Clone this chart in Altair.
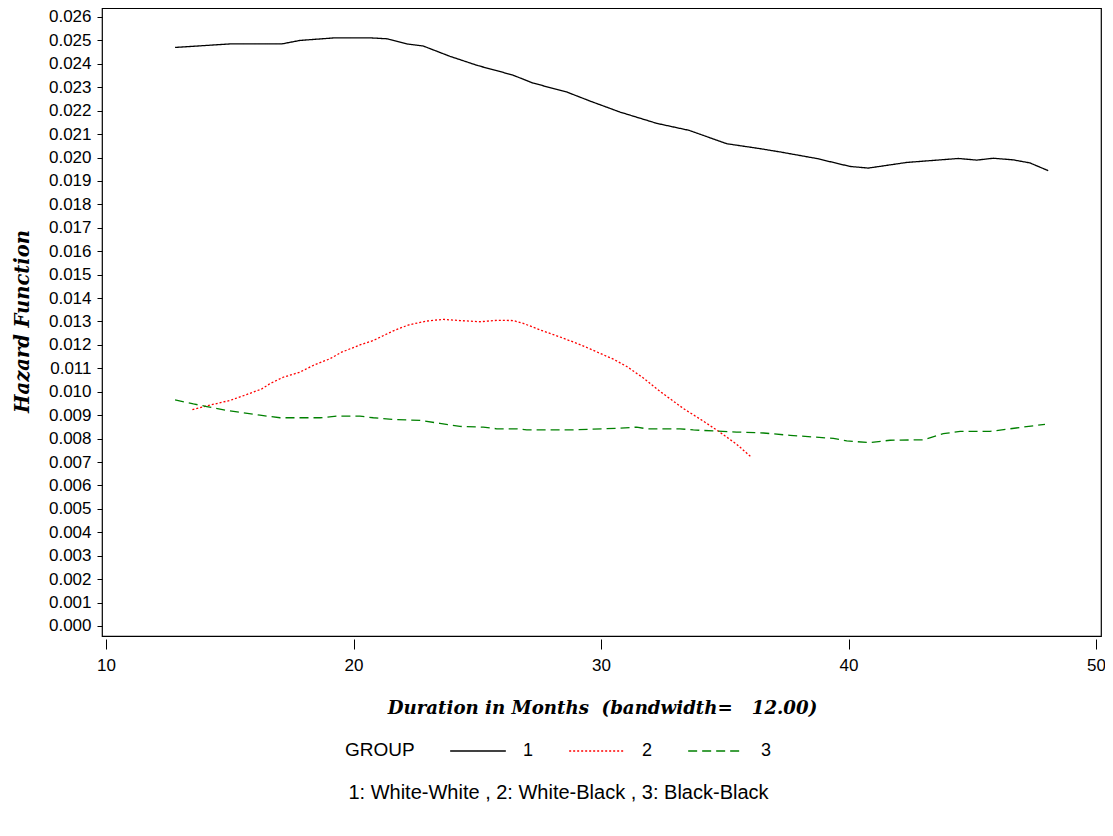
import altair as alt
import pandas as pd

# Group 1: White-White
months_1 = [12.79, 15.01, 17.10, 17.84, 19.25, 20.67, 21.34, 22.15, 22.82, 23.90,
            25.04, 25.79, 26.46, 27.25, 28.61, 29.56, 30.77, 32.25, 33.56, 35.08,
            36.42, 37.23, 38.71, 40.06, 40.80, 42.35, 44.44, 45.18, 45.85, 46.66,
            47.33, 48.07]
hazard_1 = [0.02470, 0.02485, 0.02485, 0.02500, 0.02511, 0.02511, 0.02507, 0.02485, 0.02476, 0.02432,
            0.02392, 0.02371, 0.02351, 0.02318, 0.02280, 0.02241, 0.02194, 0.02146, 0.02116, 0.02059,
            0.02038, 0.02024, 0.01996, 0.01962, 0.01955, 0.01979, 0.01996, 0.01989, 0.01997, 0.01990,
            0.01977, 0.01944]

# Group 2: White-Black
months_2 = [13.49, 14.20, 15.01, 15.68, 16.29, 16.63, 17.16, 17.84, 18.38, 19.05,
            19.52, 20.26, 20.80, 21.61, 22.21, 22.96, 23.63, 24.30, 25.11, 25.79,
            26.46, 26.86, 27.54, 28.21, 29.02, 29.56, 30.50, 31.04, 31.71, 32.38,
            33.32, 34.13, 34.74, 35.48, 36.06]
hazard_2 = [0.00924, 0.00943, 0.00963, 0.00988, 0.01012, 0.01035, 0.01062, 0.01084, 0.01113, 0.01141,
            0.01169, 0.01200, 0.01219, 0.01260, 0.01285, 0.01302, 0.01309, 0.01304, 0.01299, 0.01305,
            0.01304, 0.01292, 0.01264, 0.01239, 0.01207, 0.01183, 0.01139, 0.01108, 0.01059, 0.01002,
            0.00929, 0.00875, 0.00832, 0.00776, 0.00722]

# Group 3: Black-Black
months_3 = [12.79, 13.53, 14.07, 14.88, 16.22, 17.03, 18.65, 19.32, 20.26, 20.80,
            21.61, 22.69, 23.49, 24.30, 25.24, 25.79, 26.59, 27.00, 28.75, 30.63,
            31.44, 31.84, 33.19, 33.73, 34.67, 35.48, 36.56, 37.64, 38.58, 39.39,
            39.93, 40.87, 41.68, 43.02, 43.83, 44.51, 45.72, 46.53, 47.94]
hazard_3 = [0.00965, 0.00948, 0.00937, 0.00920, 0.00900, 0.00889, 0.00889, 0.00896, 0.00896, 0.00889,
            0.00882, 0.00878, 0.00865, 0.00852, 0.00849, 0.00842, 0.00842, 0.00837, 0.00837, 0.00844,
            0.00849, 0.00842, 0.00842, 0.00837, 0.00832, 0.00828, 0.00824, 0.00814, 0.00807, 0.00801,
            0.00790, 0.00783, 0.00793, 0.00795, 0.00821, 0.00831, 0.00831, 0.00842, 0.00861]

groups = ["1", "2", "3"]
x_ticks = [10, 20, 30, 40, 50]
y_ticks = [0.000, 0.001, 0.002, 0.003, 0.004, 0.005, 0.006, 0.007, 0.008, 0.009,
           0.010, 0.011, 0.012, 0.013, 0.014, 0.015, 0.016, 0.017, 0.018, 0.019,
           0.020, 0.021, 0.022, 0.023, 0.024, 0.025, 0.026]
footnote = "1: White-White , 2: White-Black , 3: Black-Black"

rows = []
for g, ms, hs in zip(groups, [months_1, months_2, months_3], [hazard_1, hazard_2, hazard_3]):
    for m, h in zip(ms, hs):
        rows.append({"month": m, "hazard": h, "group": g})
df = pd.DataFrame(rows)

legend = alt.Legend(
    orient="none", legendX=243, legendY=714, direction="horizontal",
    title="GROUP", titleOrient="left", titleBaseline="top",
    titleFont="Liberation Sans", titleFontSize=19,
    titleFontWeight="normal", titleColor="black", titlePadding=34,
    labelFont="Liberation Sans", labelFontSize=18, labelColor="black",
    symbolType="stroke", symbolSize=3100, symbolStrokeWidth=1.4,
    labelOffset=16, columnPadding=32,
)

chart = alt.Chart(df).mark_line(strokeWidth=1.3).encode(
    x=alt.X("month:Q",
            scale=alt.Scale(domain=[9.838, 50.202], nice=False, zero=False),
            axis=alt.Axis(values=x_ticks, format="d", grid=False, domain=False, offset=3,
                          tickSize=10, tickColor="black", labelPadding=8,
                          labelFont="Liberation Sans", labelFontSize=17, labelColor="black",
                          title="Duration in Months\u00a0\u00a0(bandwidth=\u00a0\u00a0 12.00)",
                          titleFont="DejaVu Serif", titleFontStyle="italic", titleFontWeight="bold",
                          titleFontSize=18.2, titleColor="black", titleX=500, titleY=69,
                          titleAlign="center", titleBaseline="middle")),
    y=alt.Y("hazard:Q",
            scale=alt.Scale(domain=[-0.000427, 0.026384], nice=False, zero=False),
            axis=alt.Axis(values=y_ticks, format=".3f", grid=False, domain=False,
                          tickSize=5, tickColor="black", labelPadding=6,
                          labelFont="Liberation Sans", labelFontSize=17, labelColor="black",
                          title="Hazard Function",
                          titleFont="DejaVu Serif", titleFontStyle="italic", titleFontWeight="bold",
                          titleFontSize=19.5, titleColor="black", titleX=-80, titleY=313,
                          titleAngle=-90, titleAlign="center", titleBaseline="middle")),
    color=alt.Color("group:N",
                    scale=alt.Scale(domain=groups, range=["#000000", "#ff0000", "#008000"]),
                    legend=legend),
    strokeDash=alt.StrokeDash("group:N",
                              scale=alt.Scale(domain=groups, range=[[1, 0], [2, 2], [9, 5]]),
                              legend=legend),
).properties(
    width=999, height=628,
    autosize=alt.AutoSizeParams(type="none"),
    padding={"left": 94, "top": 0, "right": 4, "bottom": 180},
    title=alt.TitleParams(text=footnote, orient="bottom", anchor="middle", dx=-43, offset=23,
                          font="Liberation Sans", fontSize=20, fontWeight="normal", color="black"),
).configure_view(stroke="black", strokeWidth=1.2)

chart.save("out.html", embed_options={"renderer": "svg", "actions": False})
